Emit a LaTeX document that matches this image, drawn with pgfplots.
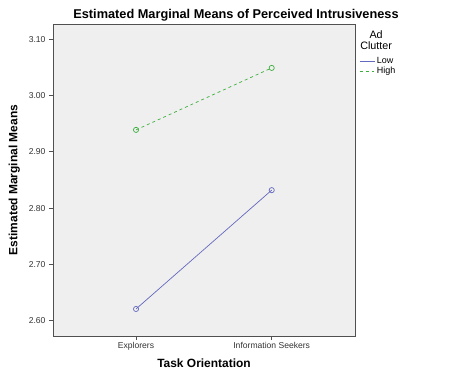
\documentclass[border=0pt]{standalone}
\usepackage{pgfplots}
\pgfplotsset{compat=1.18}
\usepackage{fontspec}
\setmainfont{Liberation Sans}
\definecolor{lowc}{RGB}{100,104,190}
\definecolor{highc}{RGB}{60,175,60}
\definecolor{bgc}{RGB}{239,239,239}
\definecolor{axc}{RGB}{80,80,80}
\begin{document}
\begin{tikzpicture}
\useasboundingbox (0,0) rectangle (474bp,379bp);
\begin{axis}[
  at={(53bp,43bp)}, anchor=south west,
  scale only axis, width=302bp, height=312bp,
  xmin=0.388, xmax=2.614, ymin=2.573, ymax=3.127,
  xtick={1,2}, xticklabels={Explorers,Information Seekers},
  ytick={2.6,2.7,2.8,2.9,3.0,3.1},
  yticklabel style={/pgf/number format/.cd,fixed,fixed zerofill,precision=2},
  /pgf/number format/assume math mode=true,
  tick label style={font=\fontsize{8.6}{9}\selectfont, text=black!80},
  xticklabel style={yshift=1bp},
  tick align=outside, tick pos=left,
  major tick length=4bp,
  every tick/.style={axc, line width=0.8pt},
  axis line style={axc, line width=0.8pt},
  axis background/.style={fill=bgc},
  title={\bfseries Estimated Marginal Means of Perceived Intrusiveness},
  title style={font=\fontsize{12.8}{14}\selectfont, at={(0.606,1)}, anchor=base, yshift=0bp},
  xlabel={\bfseries Task Orientation},
  ylabel={\bfseries Estimated Marginal Means},
  label style={font=\fontsize{12}{13}\selectfont},
  xlabel style={yshift=-1bp},
  ylabel style={yshift=2bp},
  legend style={at={(1.003,0.905)}, anchor=north west, draw=white, fill=white,
    font=\fontsize{9}{9.5}\selectfont, row sep=-2.5bp},
  legend cell align=left,
  legend image code/.code={\draw[#1] (0bp,0bp) -- (15bp,0bp);},
  clip=false,
]
\addlegendimage{draw=lowc, line width=0.9pt}
\addlegendentry{Low}
\addlegendimage{draw=highc, line width=0.9pt, dashed}
\addlegendentry{High}
\addplot[forget plot, draw=lowc, line width=0.7pt, mark=o, mark size=2.6pt, mark options={solid, draw=lowc}]
  coordinates {(1,2.621) (2,2.832)};
\addplot[forget plot, draw=highc, line width=0.7pt, dashed, mark=o, mark size=2.6pt, mark options={solid, draw=highc}]
  coordinates {(1,2.939) (2,3.049)};
\node[font=\fontsize{10.8}{11}\selectfont, align=center, anchor=north] at (rel axis cs:1.07,0.99) {Ad\\Clutter};
\end{axis}
\end{tikzpicture}
\end{document}
